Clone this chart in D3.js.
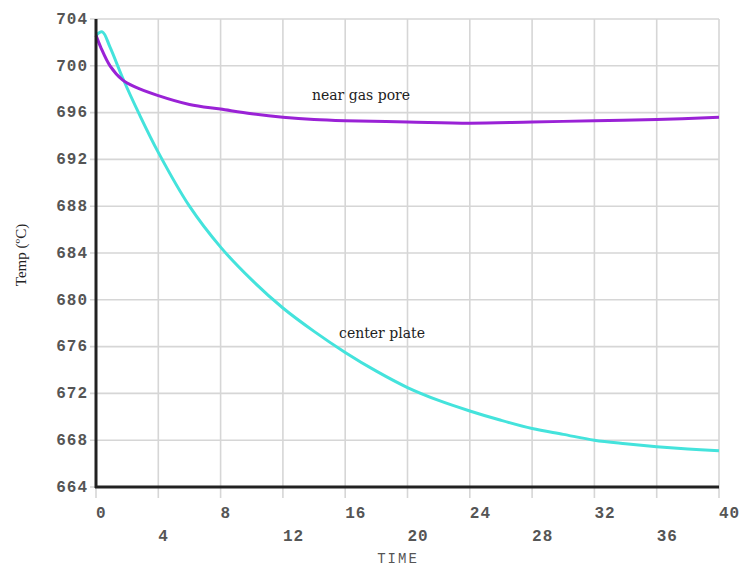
<!DOCTYPE html>
<html>
<head>
<meta charset="utf-8">
<script src="https://cdn.jsdelivr.net/npm/d3@7"></script>
<style>
  html, body { margin: 0; padding: 0; background: #fff; }
  svg { display: block; }
</style>
</head>
<body>
<svg id="chart" width="742" height="569"></svg>
<script>
// ---- data ----
const timeCenter = [0, 0.4, 0.9, 1.7, 2.8, 4, 6, 8, 10, 12, 14, 16, 18, 20, 22, 24, 26, 28, 30, 32, 34, 36, 38, 40];
const tempCenter = [702.6, 702.9, 701.6, 699.0, 695.8, 692.6, 688.0, 684.5, 681.7, 679.3, 677.3, 675.5, 673.9, 672.5, 671.4, 670.5, 669.7, 669.0, 668.5, 668.0, 667.7, 667.45, 667.25, 667.1];
const timePore = [0, 0.3, 0.9, 1.7, 2.5, 3.9, 6, 8, 10, 12, 14, 16, 20, 24, 28, 32, 36, 40];
const tempPore = [702.6, 701.6, 700.0, 698.8, 698.2, 697.5, 696.7, 696.3, 695.9, 695.6, 695.4, 695.3, 695.2, 695.1, 695.2, 695.3, 695.4, 695.6];
const xTicks = [0, 4, 8, 12, 16, 20, 24, 28, 32, 36, 40];
const yTicks = [664, 668, 672, 676, 680, 684, 688, 692, 696, 700, 704];
const seriesNames = ["center plate", "near gas pore"];
const xTitle = "TIME";
const yTitle = "Temp (ºC)";

// ---- layout ----
const svg = d3.select("#chart");
const x = d3.scaleLinear().domain([0, 40]).range([96, 719]);
const y = d3.scaleLinear().domain([664, 704]).range([487, 19]);

const grid = svg.append("g");
grid.selectAll("line.h").data(yTicks).enter().append("line")
  .attr("x1", x(0) - 6).attr("x2", x(40))
  .attr("y1", d => y(d)).attr("y2", d => y(d))
  .attr("stroke", "#d6d6d6").attr("stroke-width", 1.6);
grid.selectAll("line.v").data(xTicks).enter().append("line")
  .attr("x1", d => x(d)).attr("x2", d => x(d))
  .attr("y1", y(704)).attr("y2", y(664) + 11)
  .attr("stroke", "#d6d6d6").attr("stroke-width", 1.6);

// y tick labels
svg.append("g").selectAll("text").data(yTicks).enter().append("text")
  .attr("x", 88).attr("y", d => y(d)).attr("dy", "0.3em")
  .attr("text-anchor", "end")
  .attr("font-family", "Liberation Mono, monospace")
  .attr("font-weight", "bold").attr("font-size", 16)
  .attr("letter-spacing", 1)
  .attr("fill", "#555")
  .text(d => d);

// x tick labels (staggered)
svg.append("g").selectAll("text").data(xTicks).enter().append("text")
  .attr("x", d => x(d))
  .attr("y", (d, i) => i % 2 === 0 ? 518 : 541)
  .attr("text-anchor", "start")
  .attr("font-family", "Liberation Mono, monospace")
  .attr("font-weight", "bold").attr("font-size", 16)
  .attr("letter-spacing", 1)
  .attr("fill", "#555")
  .text(d => d);

// axis titles
svg.append("text")
  .attr("x", 398).attr("y", 563).attr("text-anchor", "middle")
  .attr("font-family", "Liberation Mono, monospace")
  .attr("font-size", 14).attr("letter-spacing", 2)
  .attr("fill", "#555")
  .text(xTitle);
svg.append("text")
  .attr("transform", "translate(26,255) rotate(-90)")
  .attr("text-anchor", "middle")
  .attr("font-family", "Liberation Serif, serif")
  .attr("font-size", 15)
  .attr("fill", "#222")
  .text(yTitle);

// lines
const line = d3.line().x(d => x(d[0])).y(d => y(d[1])).curve(d3.curveCatmullRom.alpha(0.5));
svg.append("path")
  .datum(timeCenter.map((t, i) => [t, tempCenter[i]]))
  .attr("d", line).attr("fill", "none")
  .attr("stroke", "#44e3dc").attr("stroke-width", 3);
svg.append("path")
  .datum(timePore.map((t, i) => [t, tempPore[i]]))
  .attr("d", line).attr("fill", "none")
  .attr("stroke", "#9a22d6").attr("stroke-width", 3);

// axes lines
svg.append("line").attr("x1", x(0)).attr("x2", x(0)).attr("y1", y(704)).attr("y2", y(664) + 1)
  .attr("stroke", "#222").attr("stroke-width", 3);
svg.append("line").attr("x1", x(0) - 1).attr("x2", x(40)).attr("y1", y(664)).attr("y2", y(664))
  .attr("stroke", "#222").attr("stroke-width", 3);

// series labels
svg.append("text").attr("x", 361).attr("y", 100).attr("text-anchor", "middle")
  .attr("font-family", "DejaVu Serif, serif").attr("font-size", 14)
  .attr("fill", "#222").text(seriesNames[1]);
svg.append("text").attr("x", 382).attr("y", 338).attr("text-anchor", "middle")
  .attr("font-family", "DejaVu Serif, serif").attr("font-size", 14)
  .attr("fill", "#222").text(seriesNames[0]);
</script>
</body>
</html>
